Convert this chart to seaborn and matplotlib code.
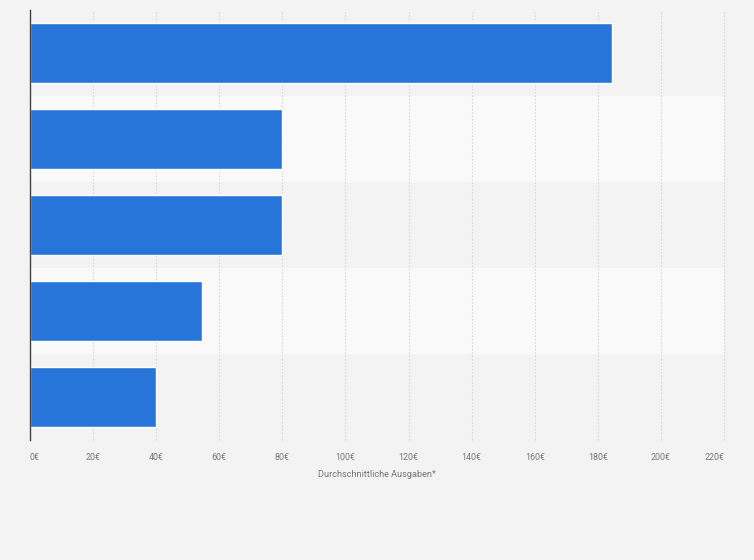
import matplotlib
matplotlib.use("Agg")
import matplotlib.pyplot as plt
import seaborn as sns
import pandas as pd

categories = ["Kategorie 1", "Kategorie 2", "Kategorie 3", "Kategorie 4", "Kategorie 5"]
values = [184.5, 80, 80, 54.5, 40]
x_ticks = [0, 20, 40, 60, 80, 100, 120, 140, 160, 180, 200, 220]
x_tick_labels = [f"{t}€" for t in x_ticks]
x_label = "Durchschnittliche Ausgaben*"

df = pd.DataFrame({"cat": categories, "val": values})

sns.set_theme(style="white")
plt.rcParams["font.family"] = ["Roboto", "DejaVu Sans"]

bg = "#f3f3f3"
fig = plt.figure(figsize=(7.54, 5.60), dpi=100, facecolor=bg)
ax = fig.add_axes([30/754, 1-440/560, (724-30)/754, (440-10)/560])
ax.set_facecolor(bg)

# alternating row bands
for i in range(len(categories)):
    if i % 2 == 1:
        ax.axhspan(i-0.5, i+0.5, color="#f9f9f9", zorder=0, lw=0)

sns.barplot(data=df, y="cat", x="val", orient="h", color="#2875d9",
            saturation=1, width=0.69, ax=ax, zorder=3)

ax.set_xlim(0, 220)
ax.set_ylim(len(categories)-0.5, -0.5)
ax.set_xticks(x_ticks)
ax.set_xticklabels(x_tick_labels, fontsize=6.4, color="#777777")
labels = ax.get_xticklabels()
labels[0].set_ha("left")
labels[-1].set_ha("right")
ax.set_yticks(range(len(categories)))
ax.set_yticklabels([])
ax.tick_params(axis="both", length=0, pad=9)
ax.set_ylabel("")
ax.set_xlabel(x_label, fontsize=6.6, color="#777777", labelpad=6)

ax.grid(axis="x", color="#d9d9d9", linestyle=(0, (1.5, 1.5)), linewidth=0.8, zorder=1)
ax.set_axisbelow(True)
for gl in ax.get_xgridlines():
    gl.set_clip_on(False)
for s in ["top", "right", "bottom"]:
    ax.spines[s].set_visible(False)
ax.spines["left"].set_color("#444444")
ax.spines["left"].set_linewidth(1.0)
ax.spines["left"].set_zorder(5)

fig.savefig("out.png", dpi=100, facecolor=bg)
